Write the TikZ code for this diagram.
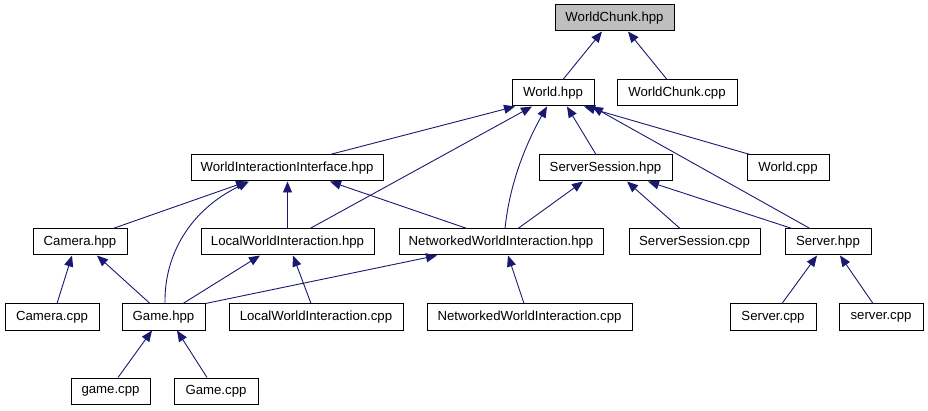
\documentclass[tikz,border=0pt]{standalone}
\usepackage{fontspec}
\setmainfont{Liberation Sans}
\usetikzlibrary{arrows.meta}
\definecolor{edgeblue}{HTML}{191970}
\definecolor{rootgray}{HTML}{BFBFBF}
\begin{document}
\begin{tikzpicture}[x=1pt,y=-1pt,
  box/.style={draw=black, line width=1pt, fill=white, minimum height=26pt, inner sep=0pt, font=\fontsize{13.2}{15}\selectfont},
  edge/.style={draw=edgeblue, line width=0.9pt, -{Triangle[length=11pt,width=9pt]}}]
\useasboundingbox (0,0) rectangle (928,411);
% row 0
\node[box, fill=rootgray, minimum width=119pt] (wch) at (614.5,18) {WorldChunk.hpp};
% row 1
\node[box, minimum width=82pt] (world) at (553,93) {World.hpp};
\node[box, minimum width=120pt] (wchcpp) at (677,93) {WorldChunk.cpp};
% row 2
\node[box, minimum width=192pt] (wii) at (287,168) {WorldInteractionInterface.hpp};
\node[box, minimum width=133pt] (ss) at (605.5,168) {ServerSession.hpp};
\node[box, minimum width=82pt] (wcpp) at (788,168) {World.cpp};
% row 3
\node[box, minimum width=94pt] (cam) at (80,242) {Camera.hpp};
\node[box, minimum width=173pt] (lwi) at (287.5,242) {LocalWorldInteraction.hpp};
\node[box, minimum width=204pt] (nwi) at (501,242) {NetworkedWorldInteraction.hpp};
\node[box, minimum width=131pt] (sscpp) at (694.5,242) {ServerSession.cpp};
\node[box, minimum width=86pt] (srv) at (828,242) {Server.hpp};
% row 4
\node[box, minimum width=94pt] (camcpp) at (52,317) {Camera.cpp};
\node[box, minimum width=83pt] (game) at (163.5,317) {Game.hpp};
\node[box, minimum width=174pt] (lwicpp) at (316,317) {LocalWorldInteraction.cpp};
\node[box, minimum width=205pt] (nwicpp) at (529.5,317) {NetworkedWorldInteraction.cpp};
\node[box, minimum width=86pt] (srvcpp) at (773,317) {Server.cpp};
\node[box, minimum width=84pt] (srvcpp2) at (881,317) {server.cpp};
% row 5
\node[box, minimum width=79pt] (gamecpp) at (110.5,391) {game.cpp};
\node[box, minimum width=84pt] (gamecpp2) at (216,391) {Game.cpp};
% edges
\draw[edge] ([xshift=10pt]world.north) -- ([xshift=-12.5pt]wch.south);
\draw[edge] ([xshift=-10pt]wchcpp.north) -- ([xshift=13.5pt]wch.south);
\draw[edge] ([xshift=43pt]wii.north) -- ([xshift=-38pt]world.south);
\draw[edge] ([xshift=22.5pt]lwi.north) -- ([xshift=-21pt]world.south);
\draw[edge] ([xshift=4pt]nwi.north) .. controls (510,180) and (528,140) .. ([xshift=-6pt]world.south);
\draw[edge] ([xshift=-9.5pt]ss.north) -- ([xshift=14pt]world.south);
\draw[edge] ([xshift=-38pt]wcpp.north) -- ([xshift=31pt]world.south);
\draw[edge] ([xshift=-18pt]srv.north) -- ([xshift=39pt]world.south);
\draw[edge] ([xshift=33pt]cam.north) -- ([xshift=-40pt]wii.south);
\draw[edge] ([xshift=1.5pt]game.north) .. controls (164,255) and (190,210) .. ([xshift=-38pt]wii.south);
\draw[edge] (lwi.north) -- ([xshift=0.5pt]wii.south);
\draw[edge] ([xshift=-34pt]nwi.north) -- ([xshift=43pt]wii.south);
\draw[edge] ([xshift=17pt]nwi.north) -- ([xshift=-22.5pt]ss.south);
\draw[edge] ([xshift=-14.5pt]sscpp.north) -- ([xshift=21.5pt]ss.south);
\draw[edge] ([xshift=-36pt]srv.north) -- ([xshift=42.5pt]ss.south);
\draw[edge] ([xshift=5pt]camcpp.north) -- ([xshift=-8pt]cam.south);
\draw[edge] ([xshift=-13.5pt]game.north) -- ([xshift=17pt]cam.south);
\draw[edge] ([xshift=19.5pt]game.north) -- ([xshift=-27.5pt]lwi.south);
\draw[edge] ([xshift=-5pt]lwicpp.north) -- ([xshift=5.5pt]lwi.south);
\draw[edge] (game.north east) -- ([xshift=-64pt]nwi.south);
\draw[edge] ([xshift=-5.5pt]nwicpp.north) -- ([xshift=7pt]nwi.south);
\draw[edge] ([xshift=9pt]srvcpp.north) -- ([xshift=-11pt]srv.south);
\draw[edge] ([xshift=-8pt]srvcpp2.north) -- ([xshift=12pt]srv.south);
\draw[edge] ([xshift=7.5pt]gamecpp.north) -- ([xshift=-11.5pt]game.south);
\draw[edge] ([xshift=-9pt]gamecpp2.north) -- ([xshift=13.5pt]game.south);
\end{tikzpicture}
\end{document}
